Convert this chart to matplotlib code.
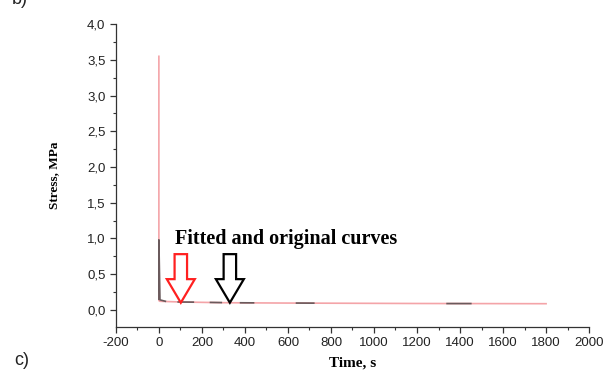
import numpy as np
import matplotlib.pyplot as plt
from matplotlib.ticker import MultipleLocator, FuncFormatter

# fitted curve (red)
fit_time = [0, 0, 5, 20, 50, 100, 200, 300, 400, 600, 800, 1000, 1200, 1400, 1600, 1800]
fit_stress = [3.55, 0.13, 0.12, 0.118, 0.115, 0.11, 0.105, 0.10, 0.098, 0.095, 0.093, 0.091, 0.089, 0.088, 0.087, 0.086]

# original curve (dark), only visible in pieces
orig_time = [0, 0, 5, 30, np.nan, 90, 160, np.nan, 240, 290, np.nan, 380, 440, np.nan, 640, 720, np.nan, 1340, 1450]
orig_stress = [0.15, 0.98, 0.14, 0.12, np.nan, 0.11, 0.108, np.nan, 0.104, 0.102, np.nan, 0.099, 0.098, np.nan, 0.095, 0.094, np.nan, 0.088, 0.088]

# hollow arrows: x position, colour
arrow_x = [102, 330]
arrow_colors = ['#ff2020', '#000000']

fig = plt.figure(figsize=(6.13, 3.72), dpi=100)
ax = fig.add_axes([0.189, 0.121, 0.772, 0.814])

ax.plot(fit_time, fit_stress, color='#f4a4a8', lw=1.2, zorder=2)
ax.plot(orig_time, orig_stress, color='#6a5a5c', lw=1.2, zorder=3)

for x, c in zip(arrow_x, arrow_colors):
    ax.arrow(x, 0.78, 0, -0.68, width=58, head_width=130, head_length=0.33,
             length_includes_head=True, fc='white', ec=c, lw=1.6, zorder=4)

ax.text(74, 0.99, 'Fitted and original curves', family='Liberation Serif',
        fontweight='bold', fontsize=14.5, va='center', ha='left')

ax.set_xlim(-200, 2000)
ax.set_ylim(-0.24, 4.0)
ax.xaxis.set_major_locator(MultipleLocator(200))
ax.xaxis.set_minor_locator(MultipleLocator(100))
ax.yaxis.set_major_locator(MultipleLocator(0.5))
ax.yaxis.set_minor_locator(MultipleLocator(0.25))
ax.xaxis.set_major_formatter(FuncFormatter(lambda v, p: str(int(round(v)))))
ax.yaxis.set_major_formatter(FuncFormatter(lambda v, p: f'{v:.1f}'.replace('.', ',')))

for s in ['top', 'right']:
    ax.spines[s].set_visible(False)
for s in ['left', 'bottom']:
    ax.spines[s].set_color('#333333')
    ax.spines[s].set_linewidth(0.9)
ax.tick_params(which='major', direction='out', length=4, width=0.9, colors='#333333',
               labelsize=9.5, labelcolor='#222222')
ax.tick_params(which='minor', direction='out', length=2, width=0.8, colors='#333333')
for lab in ax.get_xticklabels() + ax.get_yticklabels():
    lab.set_family('Liberation Sans')

ax.set_xlabel('Time, s', family='Liberation Serif', fontweight='bold', fontsize=11, labelpad=5)
ax.set_ylabel('Stress, MPa', family='Liberation Serif', fontweight='bold', fontsize=9.5, labelpad=19)

fig.text(0.024, 0.02, 'c)', fontsize=13, family='Liberation Sans', color='#222222')
fig.text(0.02, 1.0, 'b)', fontsize=13, family='Liberation Sans', color='#222222', va='center')

fig.savefig('out.png', dpi=100)
